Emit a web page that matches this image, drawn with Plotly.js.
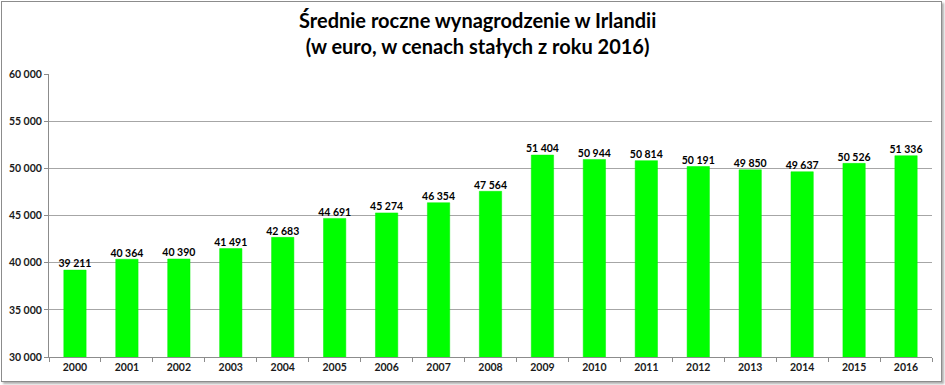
<!DOCTYPE html>
<html>
<head>
<meta charset="utf-8">
<script src="https://cdn.plot.ly/plotly-3.0.1.min.js"></script>
<style>
html,body{margin:0;padding:0;background:#fff;}
#wrap{position:relative;width:945px;height:385px;}
#chart{position:absolute;left:0;top:0;width:945px;height:385px;}
#frame{position:absolute;left:1px;top:1px;width:939px;height:379px;border:1px solid #8c8c8c;box-shadow:2px 2px 2px #b0b0b0;pointer-events:none;}
</style>
</head>
<body>
<div id="wrap"><div id="chart"></div><div id="frame"></div></div>
<script>
const years = ['2000','2001','2002','2003','2004','2005','2006','2007','2008','2009','2010','2011','2012','2013','2014','2015','2016'];
const wages = [39211,40364,40390,41491,42683,44691,45274,46354,47564,51404,50944,50814,50191,49850,49637,50526,51336];
const yTicks = [30000,35000,40000,45000,50000,55000,60000];
const titleText = 'Średnie roczne wynagrodzenie w Irlandii<br>(w euro, w cenach stałych z roku 2016)';

const font = 'Lato, "Open Sans", sans-serif';
const trace = {
  type: 'bar',
  x: years,
  y: wages,
  marker: {color: '#00ff00', line: {color: '#00ee00', width: 0.5}},
  hoverinfo: 'none'
};
const labels = {
  type: 'scatter',
  mode: 'text',
  x: years,
  y: wages,
  texttemplate: '%{y:,d}',
  textposition: 'top center',
  cliponaxis: false,
  textfont: {family: font, size: 10.5, color: '#000', weight: 'bold'},
  hoverinfo: 'none'
};
const layout = {
  width: 945, height: 385,
  separators: ', ',
  margin: {l: 49, r: 13, t: 74, b: 28},
  paper_bgcolor: '#fff', plot_bgcolor: '#fff',
  bargap: 0.57,
  showlegend: false,
  annotations: [{text: titleText, xref: 'paper', yref: 'paper', x: 0.485, y: 1, xanchor: 'center', yanchor: 'bottom',
                 yshift: 14, showarrow: false, align: 'center',
                 font: {family: font, size: 20, color: '#000', weight: 'bold'}}],
  xaxis: {type: 'category', range: [-0.5, 16.5], showgrid: false, showline: true, linecolor: '#8c8c8c', linewidth: 1,
          ticks: 'outside', ticklen: 4, tickcolor: '#8c8c8c', tickson: 'boundaries',
          tickfont: {family: font, size: 10.5, color: '#1a1a1a', weight: 'bold'}},
  yaxis: {range: [30000, 60000], tickvals: yTicks, tickformat: ',d', showgrid: true, gridcolor: '#a6a6a6', gridwidth: 1,
          showline: true, linecolor: '#8c8c8c', linewidth: 1, ticks: 'outside', ticklen: 4, tickcolor: '#8c8c8c',
          zeroline: false, tickfont: {family: font, size: 10.5, color: '#1a1a1a', weight: 'bold'}}
};
Plotly.newPlot('chart', [trace, labels], layout, {displayModeBar: false, staticPlot: true});
</script>
</body>
</html>
